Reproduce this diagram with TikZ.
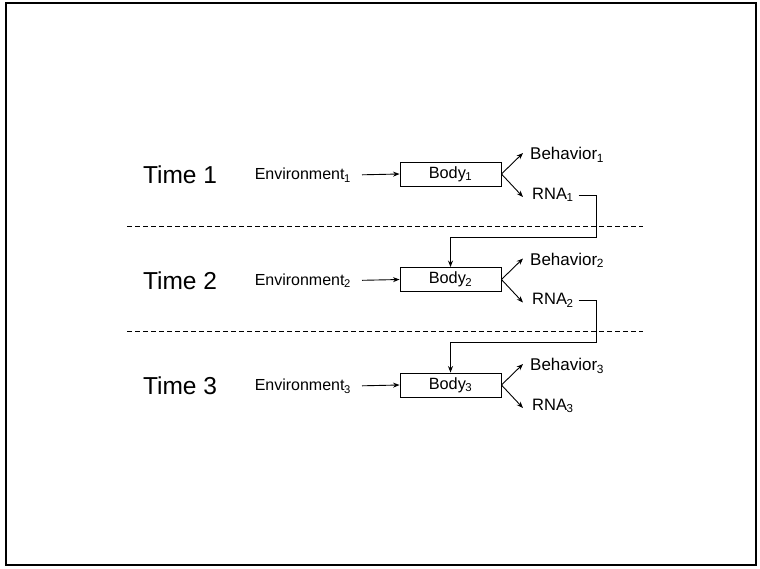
\documentclass[tikz,border=0pt]{standalone}
\usepackage{fontspec}
\setmainfont{Liberation Sans}
\usetikzlibrary{arrows.meta}
\begin{document}
\begin{tikzpicture}[x=1pt,y=-1pt,
  lbl/.style={font=\fontsize{16}{18}\selectfont, inner sep=2pt},
  behlbl/.style={font=\fontsize{17}{19}\selectfont, inner sep=2pt},
  rnalbl/.style={font=\fontsize{16.5}{19}\selectfont, inner sep=2pt},
  timelbl/.style={font=\fontsize{24.5}{28}\selectfont, inner sep=0pt},
  bodybox/.style={draw, line width=0.9pt, minimum width=101pt, minimum height=24pt, inner sep=0pt, font=\fontsize{16.3}{18}\selectfont},
  conn/.style={line width=0.9pt, -{Stealth[length=6.5pt,width=5pt]}},
  feed/.style={line width=0.9pt, -{Stealth[length=6.5pt,width=5pt]}},
  sep/.style={line width=0.9pt, dash pattern=on 5pt off 3pt}]
\useasboundingbox (0,0) rectangle (760,568);
\draw[line width=1.3pt] (6,3) rectangle (756,565);

\foreach \i/\y in {1/174,2/279.5,3/385} {
  \node[timelbl] (time\i) at (180,\y+1) {Time \i};
  \node[lbl, anchor=east] (env\i) at (353,\y+1) {Environment\textsubscript{\kern-0.5pt\i}};
  \node[bodybox] (body\i) at (450.5,\y) {Body\textsubscript{\kern-0.5pt\i}};
  \node[behlbl, anchor=west] (beh\i) at (528,\y-19) {Behavior\textsubscript{\kern-0.5pt\i}};
  \node[rnalbl, anchor=west] (rna\i) at (530,\y+21) {RNA\textsubscript{\kern-0.5pt\i}};
  \draw[conn, shorten <=9pt] (env\i.east) -- (body\i.west);
  \draw[conn] (body\i.east) -- ([xshift=-5pt,yshift=2pt]beh\i.west);
  \draw[conn] (body\i.east) -- ([xshift=-7pt,yshift=-2pt]rna\i.west);
}

\coordinate (s1a) at (127,226);
\coordinate (s1b) at (643,226);
\coordinate (s2a) at (127,331);
\coordinate (s2b) at (643,331);
\draw[sep] (s1a) -- (s1b);
\draw[sep] (s2a) -- (s2b);

\coordinate (k1) at (596,237);
\coordinate (k2) at (596,342.5);
\draw[feed, shorten <=3pt] (rna1.east) -| (k1) -| (body2.north);
\draw[feed, shorten <=3pt] (rna2.east) -| (k2) -| (body3.north);
\end{tikzpicture}
\end{document}
